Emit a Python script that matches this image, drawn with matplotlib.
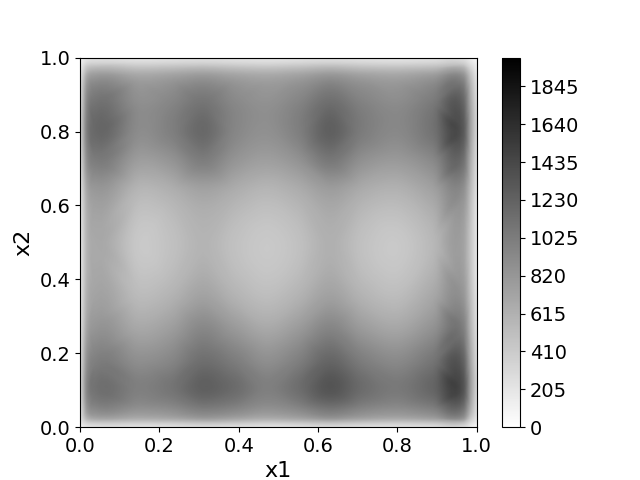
import matplotlib
matplotlib.use("Agg")
import matplotlib.pyplot as plt
import matplotlib.tri as mtri
import numpy as np

# grid nodes, tighter near the walls where the field drops off
x1 = [0, .008, .018, .04, .15, .23, .31, .39, .47, .55, .63, .71, .80, .89, .965, .984, 1.0]
x2 = [0, .012, .025, .045, .10, .18, .27, .36, .5, .64, .72, .8, .88, .95, .97, .985, 1.0]

# field values, one row per x2 node
field = [
    [80, 130, 170, 200, 190, 200, 230, 210, 190, 205, 240, 210, 200, 215, 240, 130, 80],
    [130, 250, 340, 400, 380, 400, 460, 430, 380, 420, 480, 430, 400, 440, 480, 260, 130],
    [180, 370, 580, 700, 650, 690, 780, 720, 650, 710, 820, 730, 680, 750, 830, 420, 180],
    [220, 450, 770, 900, 830, 870, 980, 920, 830, 900, 1030, 920, 860, 950, 1050, 580, 230],
    [270, 550, 940, 1100, 1000, 1080, 1240, 1150, 1000, 1130, 1330, 1150, 1050, 1200, 1340, 740, 290],
    [250, 500, 850, 1000, 880, 950, 1130, 1020, 880, 1000, 1200, 1020, 920, 1080, 1230, 680, 270],
    [210, 415, 700, 830, 680, 760, 930, 790, 670, 780, 950, 780, 690, 850, 1000, 570, 230],
    [180, 360, 610, 720, 530, 590, 720, 590, 510, 590, 730, 590, 520, 680, 820, 490, 200],
    [170, 340, 580, 680, 430, 490, 590, 490, 430, 490, 620, 490, 430, 560, 730, 440, 180],
    [200, 400, 680, 800, 570, 620, 720, 640, 570, 640, 760, 650, 600, 730, 870, 520, 210],
    [250, 510, 870, 1020, 760, 830, 1010, 830, 750, 840, 1050, 860, 790, 920, 1110, 620, 250],
    [290, 590, 1000, 1180, 900, 1000, 1180, 950, 870, 1000, 1250, 1030, 930, 1100, 1300, 710, 290],
    [270, 540, 930, 1090, 880, 950, 1080, 930, 860, 960, 1130, 980, 900, 1040, 1200, 660, 260],
    [200, 400, 680, 800, 700, 740, 800, 730, 690, 740, 830, 750, 710, 790, 870, 480, 190],
    [150, 290, 480, 570, 500, 530, 570, 520, 490, 530, 590, 530, 510, 550, 620, 340, 140],
    [110, 200, 300, 340, 310, 330, 350, 320, 300, 330, 360, 330, 310, 340, 370, 220, 110],
    [80, 130, 180, 210, 190, 200, 220, 200, 190, 200, 220, 200, 190, 210, 220, 130, 80],
]

levels = np.linspace(0, 2000, 401)
cbar_ticks = [0, 205, 410, 615, 820, 1025, 1230, 1435, 1640, 1845]


def main():
    fig, ax = plt.subplots(figsize=(6.4, 4.8), dpi=100)

    # tricontourf on a refined mesh so the sparse grid shades smoothly
    X, Y = np.meshgrid(x1, x2)
    z = np.array(field, dtype=float).ravel()
    tri = mtri.Triangulation(X.ravel(), Y.ravel())
    interp = mtri.CubicTriInterpolator(tri, z, kind="geom")
    refiner = mtri.UniformTriRefiner(tri)
    fine_tri, fine_z = refiner.refine_field(z, triinterpolator=interp, subdiv=3)
    cs = ax.tricontourf(fine_tri, fine_z, levels=levels, cmap="gray_r")

    ax.set_xlim(0, 1)
    ax.set_ylim(0, 1)
    ax.set_xlabel("x1", fontsize=16)
    ax.set_ylabel("x2", fontsize=16)
    ax.tick_params(labelsize=14)

    cbar = fig.colorbar(cs, ax=ax, ticks=cbar_ticks)
    cbar.ax.tick_params(labelsize=14)

    fig.savefig("out.png", dpi=100)


if __name__ == "__main__":
    main()
